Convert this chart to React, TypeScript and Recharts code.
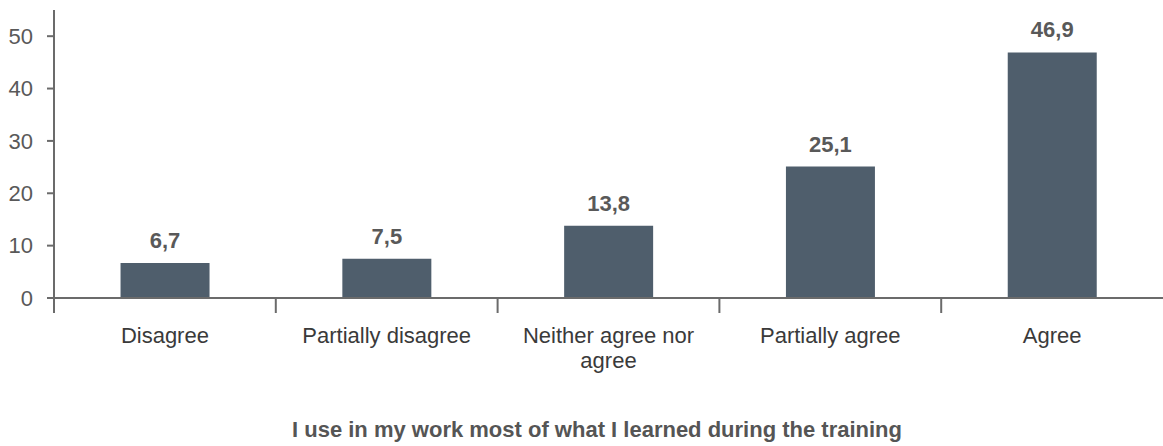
import React from 'react';
import { BarChart, Bar, XAxis, YAxis, LabelList, Label } from 'recharts';

const categories = ['Disagree', 'Partially disagree', 'Neither agree nor agree', 'Partially agree', 'Agree'];
const categoryLines = [['Disagree'], ['Partially disagree'], ['Neither agree nor', 'agree'], ['Partially agree'], ['Agree']];
const values = [6.7, 7.5, 13.8, 25.1, 46.9];
const valueLabels = ['6,7', '7,5', '13,8', '25,1', '46,9'];
const yTicks = [0, 10, 20, 30, 40, 50];
const title = 'I use in my work most of what I learned during the training';

const data = categories.map((c, i) => ({ name: c, value: values[i], label: valueLabels[i] }));

const W = 1163;
const H = 446;
const MARGIN_TOP = 10;
const Y_AXIS_W = 54;
const X_AXIS_H = 148;
const PLOT_BOTTOM = H - X_AXIS_H;
const HALF = (W - Y_AXIS_W) / categories.length / 2;
const AXIS = '#6b6b6b';
const FONT = '"Liberation Sans", Arial, Helvetica, sans-serif';
const FS = 22;

const XTick = (props: any) => {
  const { x, payload } = props;
  const idx = categories.indexOf(payload.value);
  const lines = idx >= 0 ? categoryLines[idx] : [String(payload.value)];
  return (
    <g>
      <line x1={x - HALF} x2={x - HALF} y1={PLOT_BOTTOM} y2={PLOT_BOTTOM + 15} stroke={AXIS} strokeWidth={2} />
      <text x={x} y={PLOT_BOTTOM + 45} textAnchor="middle" fontSize={FS} fill="#3a3a3a" fontFamily={FONT}>
        {lines.map((l, i) => (
          <tspan key={i} x={x} y={PLOT_BOTTOM + 45 + i * 25}>{l}</tspan>
        ))}
      </text>
    </g>
  );
};

const TitleContent = () => (
  <text x={597} y={437} textAnchor="middle" fontSize={FS} fontWeight="bold" fill="#555555" fontFamily={FONT}>
    {title}
  </text>
);

export default function App() {
  return (
    <div style={{ width: W, height: H, fontFamily: FONT }}>
      <style>{'body{margin:0;}'}</style>
      <BarChart width={W} height={H} data={data} margin={{ top: MARGIN_TOP, right: 0, bottom: 0, left: 0 }} barCategoryGap="30%">
        <XAxis
          dataKey="name"
          height={X_AXIS_H}
          tickLine={false}
          axisLine={{ stroke: AXIS, strokeWidth: 2 }}
          tick={<XTick />}
          interval={0}
        >
          <Label content={<TitleContent />} />
        </XAxis>
        <YAxis
          width={Y_AXIS_W}
          domain={[0, 55]}
          ticks={yTicks}
          interval={0}
          tickSize={7}
          tickMargin={14}
          axisLine={{ stroke: AXIS, strokeWidth: 2 }}
          tickLine={{ stroke: AXIS, strokeWidth: 2 }}
          tick={{ fontSize: FS, fill: '#595959', fontFamily: FONT }}
        />
        <Bar dataKey="value" fill="#4f5e6c" isAnimationActive={false}>
          <LabelList dataKey="label" position="top" offset={15} fontSize={FS} fontWeight="bold" fill="#595959" fontFamily={FONT} />
        </Bar>
      </BarChart>
    </div>
  );
}
